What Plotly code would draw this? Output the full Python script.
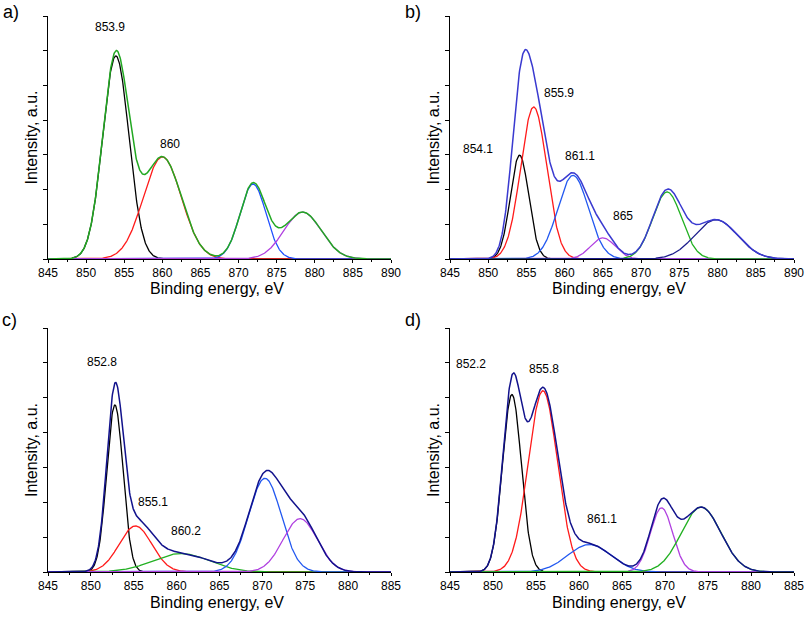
import numpy as np
import plotly.graph_objects as go

# ---------------- data ----------------
# Panel a
a_centers = [853.9, 860.0, 871.9, 878.4]
a_heights = [5.85, 2.94, 2.16, 1.35]
a_widths = [1.72, 2.5, 1.7, 2.45]
a_colors = ["#000000", "#ff1a1a", "#1f4fff", "#b040e0"]
a_env_color = "#22a822"
a_labels = ["853.9", "860"]
a_label_x = [853.1, 861.0]
a_label_y = [6.69, 3.32]

# Panel b
b_centers = [854.1, 855.95, 861.1, 865.0, 873.4, 879.8]
b_heights = [2.99, 4.38, 2.41, 0.61, 1.93, 1.13]
b_widths = [1.2, 1.7, 2.0, 1.6, 1.9, 2.8]
b_colors = ["#000000", "#ff1a1a", "#2258f0", "#b040e0", "#22b022", "#1c1c8c"]
b_env_color = "#3a3ad0"
b_labels = ["854.1", "855.9", "861.1", "865"]
b_label_x = [848.7, 859.3, 862.0, 867.6]
b_label_y = [3.18, 4.77, 2.98, 1.24]

# Panel c
c_centers = [852.8, 855.2, 860.5, 870.3, 874.4]
c_heights = [4.79, 1.32, 0.53, 2.69, 1.53]
c_widths = [0.95, 1.9, 3.3, 1.9, 2.0]
c_colors = ["#000000", "#ff1a1a", "#22b022", "#2258f0", "#b040e0"]
c_env_color = "#12128c"
c_labels = ["852.8", "855.1", "860.2"]
c_label_x = [851.3, 857.2, 861.1]
c_label_y = [6.02, 2.0, 1.17]

# Panel d
d_centers = [852.2, 855.8, 861.2, 869.6, 874.2]
d_heights = [5.09, 5.2, 0.79, 1.84, 1.86]
d_widths = [1.1, 1.7, 2.5, 1.3, 2.3]
d_colors = ["#000000", "#ff1a1a", "#2258f0", "#b040e0", "#22b022"]
d_env_color = "#12128c"
d_labels = ["852.2", "855.8", "861.1"]
d_label_x = [847.4, 855.9, 862.7]
d_label_y = [5.96, 5.82, 1.52]

panel_names = ["a)", "b)", "c)", "d)"]
x_ranges = [[845, 890], [845, 890], [845, 885], [845, 885]]

# ---------------- layout helpers ----------------
W, H = 805, 618
FONT = "Liberation Sans, Arial, sans-serif"

# plot-area pixel boxes (left, right, top, bottom)
boxes = [(48, 391, 16, 259), (450, 794, 16, 259), (48, 391, 328, 572), (450, 794, 328, 572)]
letter_pos = [(11, 12), (413, 12), (9, 320), (413, 320)]

panels = [
    (a_centers, a_heights, a_widths, a_colors, a_env_color, a_labels, a_label_x, a_label_y),
    (b_centers, b_heights, b_widths, b_colors, b_env_color, b_labels, b_label_x, b_label_y),
    (c_centers, c_heights, c_widths, c_colors, c_env_color, c_labels, c_label_x, c_label_y),
    (d_centers, d_heights, d_widths, d_colors, d_env_color, d_labels, d_label_x, d_label_y),
]

fig = go.Figure()
annotations = []


def paper_text(txt, px, py, size, angle=0):
    return dict(text=txt, x=px / W, y=1 - py / H, xref="paper", yref="paper",
                xanchor="center", yanchor="middle", showarrow=False, textangle=angle,
                font=dict(family=FONT, size=size, color="#000"))


for i, (cen, hei, wid, cols, envc, labs, lx, ly) in enumerate(panels):
    n = i + 1
    xa = "x" if n == 1 else f"x{n}"
    ya = "y" if n == 1 else f"y{n}"
    x = np.linspace(x_ranges[i][0], x_ranges[i][1], 900)
    total = np.zeros_like(x)
    comps = []
    for c, h, w in zip(cen, hei, wid):
        g = h * np.exp(-((x - c) ** 2) / (2 * w ** 2))
        comps.append(g)
        total += g
    for g, col in zip(comps, cols):
        fig.add_trace(go.Scatter(x=x, y=g, mode="lines", line=dict(color=col, width=1.3),
                                 xaxis=xa, yaxis=ya, showlegend=False, hoverinfo="skip"))
    fig.add_trace(go.Scatter(x=x, y=total, mode="lines", line=dict(color=envc, width=1.5),
                             xaxis=xa, yaxis=ya, showlegend=False, hoverinfo="skip"))

    l, r, t, b = boxes[i]
    xdom = [l / W, r / W]
    ydom = [1 - b / H, 1 - t / H]
    axname = "xaxis" if n == 1 else f"xaxis{n}"
    ayname = "yaxis" if n == 1 else f"yaxis{n}"
    fig.layout[axname] = dict(
        domain=xdom, range=x_ranges[i], anchor=ya, dtick=5, tick0=845, automargin=False,
        showline=True, linecolor="#000", linewidth=1, showgrid=False, zeroline=False,
        ticks="outside", ticklen=3, tickcolor="#000",
        minor=dict(ticks="outside", ticklen=2, dtick=2.5, tickcolor="#000"),
        tickfont=dict(family=FONT, size=12, color="#000"),
    )
    fig.layout[ayname] = dict(
        domain=ydom, range=[0, 7], anchor=xa, dtick=1, tick0=0, automargin=False,
        showline=True, linecolor="#000", linewidth=1, showgrid=False, zeroline=False,
        ticks="outside", ticklen=4, tickcolor="#000", showticklabels=False,
    )
    # peak labels
    for txt, px, py in zip(labs, lx, ly):
        annotations.append(dict(text=txt, x=px, y=py, xref=xa, yref=ya, showarrow=False,
                                xanchor="center", yanchor="middle",
                                font=dict(family=FONT, size=12, color="#000")))
    # axis titles
    annotations.append(paper_text("Binding energy, eV", (l + r) / 2 - 3, b + 30, 16))
    annotations.append(paper_text("Intensity, a.u.", l - 17, (t + b) / 2, 16, -90))
    # panel letter
    annotations.append(paper_text(panel_names[i], letter_pos[i][0], letter_pos[i][1], 18))

fig.update_layout(width=W, height=H, margin=dict(l=0, r=0, t=0, b=0, autoexpand=False),
                  template="none",
                  plot_bgcolor="white", paper_bgcolor="white", annotations=annotations)

fig.write_html("out.html", config={"displayModeBar": False},
               post_script="document.body.style.margin='0px';document.body.style.overflow='hidden';")
